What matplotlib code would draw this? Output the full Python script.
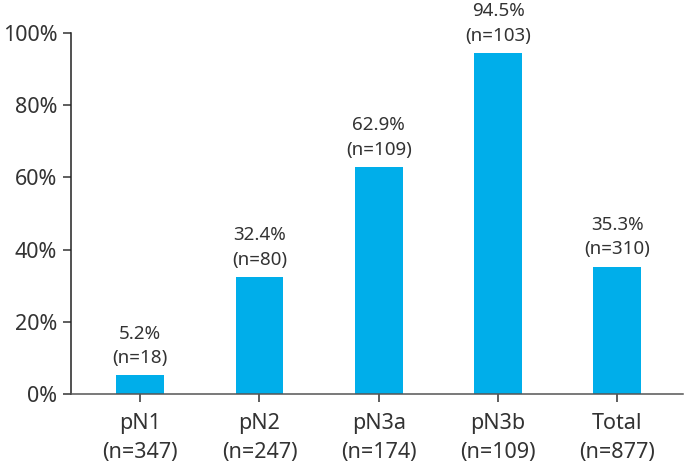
import numpy as np
import matplotlib as mpl
mpl.use('Agg')
import matplotlib.pyplot as plt

categories = ['pN1', 'pN2', 'pN3a', 'pN3b', 'Total']
totals = [347, 247, 174, 109, 877]
pct = [5.2, 32.4, 62.9, 94.5, 35.3]
counts = [18, 80, 109, 103, 310]

bar_color = '#00aeea'
text_color = '#333333'
plt.rcParams['font.family'] = ['Noto Sans', 'DejaVu Sans']

fig = plt.figure(figsize=(6.85, 4.65), dpi=100)
ax = fig.add_axes([0.1036, 0.1527, 0.8934, 0.776])

x = np.arange(len(categories))
ax.bar(x, pct, width=0.4, color=bar_color)

for xi, p, c in zip(x, pct, counts):
    ax.text(xi, p + 2.3, '%.1f%%\n(n=%d)' % (p, c), ha='center', va='bottom',
            fontsize=13.5, color=text_color, linespacing=1.45)

ax.set_xlim(-0.58, 4.55)
ax.set_ylim(0, 100)
ax.set_xticks(x)
ax.set_xticklabels(['%s\n(n=%d)' % (cat, n) for cat, n in zip(categories, totals)],
                   fontsize=15.5, color=text_color, linespacing=1.5)
ax.set_yticks(np.arange(0, 101, 20))
ax.set_yticklabels(['%d%%' % v for v in range(0, 101, 20)], fontsize=15.5, color=text_color)

for s in ['top', 'right']:
    ax.spines[s].set_visible(False)
ax.spines['left'].set_color('#222222')
ax.spines['bottom'].set_color('#555555')
ax.spines['left'].set_linewidth(1.1)
ax.spines['bottom'].set_linewidth(1.1)
ax.tick_params(axis='both', direction='out', length=6, width=1.1, colors='#333333')
ax.tick_params(axis='x', pad=8)
ax.tick_params(axis='y', pad=4)

fig.savefig('out.png', dpi=100)
